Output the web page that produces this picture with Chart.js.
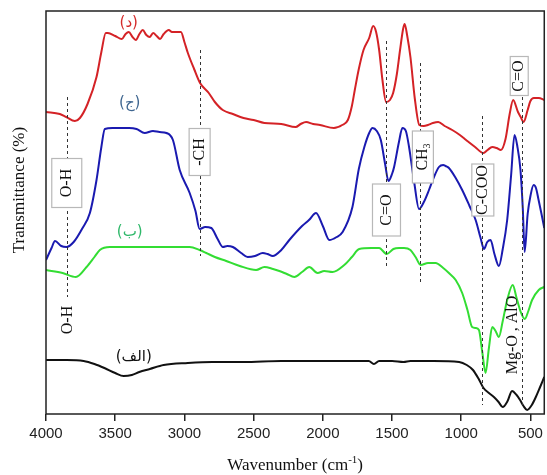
<!DOCTYPE html>
<html><head><meta charset="utf-8">
<script src="https://cdn.jsdelivr.net/npm/chart.js@4.4.1/dist/chart.umd.min.js"></script>
<style>html,body{margin:0;padding:0;background:#fff;}#wrap{width:547px;height:475px;}</style>
</head><body><div id="wrap"><canvas id="c" width="547" height="475"></canvas></div>
<script>
// ---- tick labels ----
const xTickValues = [4000,3500,3000,2500,2000,1500,1000,500];

// ---- series (الف) black ----
const wnA = [4000,3850,3728,3650,3578,3500,3439,3380,3326,3250,3150,2975,2800,2573,2300,2000,1819,1668,1631,1593,1500,1417,1367,1200,1015,960,915,870,839,800,764,730,701,665,633,600,575,550,524,490,461,430,400];
const tA  = [54,54,53,50,46,41,38,39,42,45,49,51,52,52,53,53,53,53,50,53,53,52,53,53,52,49,44,34,26,21,17,12,7,13,23,19,14,8,4,9,17,27,37];

// ---- series (ب) green ----
const wnB = [4000,3880,3784,3707,3650,3611,3539,3400,3200,2962,2890,2842,2780,2698,2600,2482,2422,2360,2314,2260,2206,2150,2098,2038,1990,1930,1845,1790,1737,1650,1593,1538,1490,1449,1413,1367,1330,1293,1240,1185,1130,1089,1040,993,955,921,895,872,848,824,800,776,752,728,700,668,628,600,570,541,515,488,440,400];
const tB  = [144,141,137,147,157,164,167,167,167,167,164,161,157,153,148,144,147,145,143,140,137,142,147,141,143,142,149,157,165,166,166,160,165,166,166,164,157,149,151,151,146,141,134,121,104,87,86,84,62,41,66,87,83,77,93,114,129,116,102,95,103,114,124,127];

// ---- series (ج) blue ----
const wnC = [4000,3960,3935,3890,3851,3800,3740,3683,3635,3600,3575,3520,3467,3400,3346,3287,3227,3180,3130,3083,3034,2962,2920,2890,2850,2806,2760,2722,2690,2650,2590,2543,2490,2434,2400,2362,2300,2242,2150,2100,2049,2000,1953,1900,1857,1786,1740,1700,1665,1641,1610,1581,1550,1526,1500,1485,1450,1425,1400,1377,1340,1305,1270,1233,1200,1161,1130,1113,1089,1040,993,940,896,860,836,812,788,760,728,700,668,640,615,595,572,555,542,520,500,477,460,441,420,400];
const tC  = [154,166,173,168,167,172,185,201,234,267,285,286,286,286,285,281,283,282,281,274,244,221,203,185,187,186,175,167,168,167,161,157,158,161,160,158,164,174,188,194,201,188,174,177,182,207,245,267,281,286,283,274,250,233,240,247,272,286,283,267,232,205,212,224,236,247,249,248,246,236,224,208,194,176,165,172,174,160,148,165,194,238,279,268,244,205,162,200,218,229,226,214,200,186];

// ---- series (د) red ----
const wnD = [4000,3900,3854,3791,3755,3700,3635,3600,3568,3553,3500,3452,3425,3402,3375,3351,3325,3301,3275,3251,3226,3200,3176,3150,3113,3090,3063,3025,3000,2975,2930,2887,2824,2780,2723,2650,2573,2500,2422,2300,2196,2160,2121,2070,2020,1920,1860,1819,1790,1769,1740,1706,1665,1636,1615,1593,1570,1543,1515,1492,1465,1442,1420,1409,1390,1367,1335,1303,1270,1241,1205,1166,1120,1065,1010,965,900,839,810,776,745,713,680,650,625,590,570,550,520,500,475,440,400];
const tD  = [302,300,297,293,296,310,337,362,381,381,378,375,380,382,377,374,380,384,379,377,381,378,375,380,384,382,382,382,372,361,345,331,321,312,304,300,296,294,291,290,287,290,292,290,289,286,289,294,308,324,345,364,376,388,382,364,335,312,314,321,340,364,385,390,378,357,315,289,288,289,291,292,288,284,279,274,267,261,264,267,266,264,275,300,314,302,297,292,304,313,316,316,314];

// ---- annotations (data-space anchors) ----
const guideWn     = [3851, 2887, 1543, 1299, 849, 562];
const guideTop    = [317, 364, 373, 351, 298, 317];
const guideBottom = [117, 158, 146, 131, 9, 9];

const boxTexts = [[['O-H']],[['-CH']],[['C=O']],[['CH'],['3','sub']],[['C-COO']],[['C=O']]];
const boxWn = [3850, 2890, 1540, 1277, 844, 581];
const boxT  = [231, 262, 204, 257, 224, 338];
const boxSize = [[30,49],[21,47],[28,52],[21,52],[22,52],[18,39]];

const freeTexts = ['O-H', 'Mg-O , AlO'];
const freeWn = [3841, 628];
const freeT  = [94, 79];

const seriesNames = ['(الف)', '(ب)', '(ج)', '(د)'];
const nameWn = [3366, 3395, 3395, 3402];
const nameT  = [57, 182, 311, 391];
const nameColors = ['#111111', '#2fb86a', '#3f6690', '#d42a2a'];

const lineColors = ['#111111', '#33dd33', '#1a1ab0', '#d42226'];

function pts(w, t){ return w.map((v,i)=>({x:v, y:t[i]})); }

function drawRich(ctx, cx, cy, parts, rot, size, color){
  ctx.save();
  ctx.translate(cx, cy);
  if (rot) ctx.rotate(rot);
  ctx.fillStyle = color;
  ctx.textBaseline = 'middle';
  ctx.textAlign = 'left';
  const fontFor = p => (p[1] ? Math.round(size*0.65) : size) + 'px "Liberation Serif", "Times New Roman", serif';
  let total = 0;
  for (const p of parts){ ctx.font = fontFor(p); total += ctx.measureText(p[0]).width; }
  let xx = -total/2;
  for (const p of parts){
    ctx.font = fontFor(p);
    const dy = p[1]==='sub' ? size*0.3 : (p[1]==='sup' ? -size*0.35 : 0);
    ctx.fillText(p[0], xx, dy);
    xx += ctx.measureText(p[0]).width;
  }
  ctx.restore();
}

const overlay = {
  id: 'overlay',
  afterDatasetsDraw(chart){
    const {ctx, chartArea: ca, scales: {x, y}} = chart;
    ctx.save();
    ctx.strokeStyle = '#333'; ctx.lineWidth = 1; ctx.setLineDash([3,3]);
    guideWn.forEach((w,i)=>{
      const px = Math.round(x.getPixelForValue(w)) + 0.5;
      ctx.beginPath();
      ctx.moveTo(px, y.getPixelForValue(guideTop[i]));
      ctx.lineTo(px, y.getPixelForValue(guideBottom[i]));
      ctx.stroke();
    });
    ctx.setLineDash([]);
    boxTexts.forEach((parts,i)=>{
      const cx = x.getPixelForValue(boxWn[i]), cy = y.getPixelForValue(boxT[i]);
      const [bw, bh] = boxSize[i];
      ctx.fillStyle = '#fff';
      ctx.fillRect(cx-bw/2, cy-bh/2, bw, bh);
      ctx.strokeStyle = '#b8b8b8'; ctx.lineWidth = 1.2;
      ctx.strokeRect(cx-bw/2, cy-bh/2, bw, bh);
      drawRich(ctx, cx, cy, parts, -Math.PI/2, 16, '#111');
    });
    freeTexts.forEach((t,i)=>{
      drawRich(ctx, x.getPixelForValue(freeWn[i]), y.getPixelForValue(freeT[i]), [[t]], -Math.PI/2, 16, '#111');
    });
    ctx.font = '15px "DejaVu Sans", sans-serif';
    ctx.textAlign = 'center'; ctx.textBaseline = 'middle';
    seriesNames.forEach((s,i)=>{
      ctx.fillStyle = nameColors[i];
      ctx.fillText(s, x.getPixelForValue(nameWn[i]), y.getPixelForValue(nameT[i]));
    });
    ctx.strokeStyle = '#222'; ctx.lineWidth = 1.5;
    ctx.strokeRect(ca.left, ca.top, ca.right-ca.left, ca.bottom-ca.top);
    ctx.restore();
  },
  afterDraw(chart){
    const ctx = chart.ctx, ca = chart.chartArea;
    drawRich(ctx, (ca.left+ca.right)/2, 466, [['Wavenumber (cm'],['-1','sup'],[')']], 0, 17, '#111');
    drawRich(ctx, 20, 190, [['Transmittance (%)']], -Math.PI/2, 17, '#111');
  }
};

const ds = (w,t,c) => ({data: pts(w,t), borderColor: c, borderWidth: 2, pointRadius: 0, fill: false, cubicInterpolationMode: 'monotone'});

new Chart(document.getElementById('c'), {
  type: 'line',
  data: { datasets: [ds(wnA,tA,lineColors[0]), ds(wnB,tB,lineColors[1]), ds(wnC,tC,lineColors[2]), ds(wnD,tD,lineColors[3])] },
  options: {
    responsive: false, animation: false, devicePixelRatio: 1,
    layout: { padding: { left: 46, right: 2, top: 11, bottom: 0 } },
    plugins: { legend: {display:false}, tooltip: {enabled:false}, title:{display:false} },
    scales: {
      x: {
        type: 'linear', reverse: true, min: 400, max: 4000,
        afterBuildTicks: s => { s.ticks = xTickValues.map(v=>({value:v})); },
        afterFit: s => { s.height = 61; },
        grid: { display: true, drawOnChartArea: false, drawTicks: true, tickLength: 7, color: '#222', lineWidth: 1.5 },
        border: { display: false },
        ticks: { padding: 4, color: '#222', maxRotation: 0, autoSkip: false, callback: v => String(v), font: { family: '"Liberation Sans", Arial, sans-serif', size: 15 } }
      },
      y: { display: false, min: 0, max: 403 }
    }
  },
  plugins: [overlay]
});
</script>
</body></html>
